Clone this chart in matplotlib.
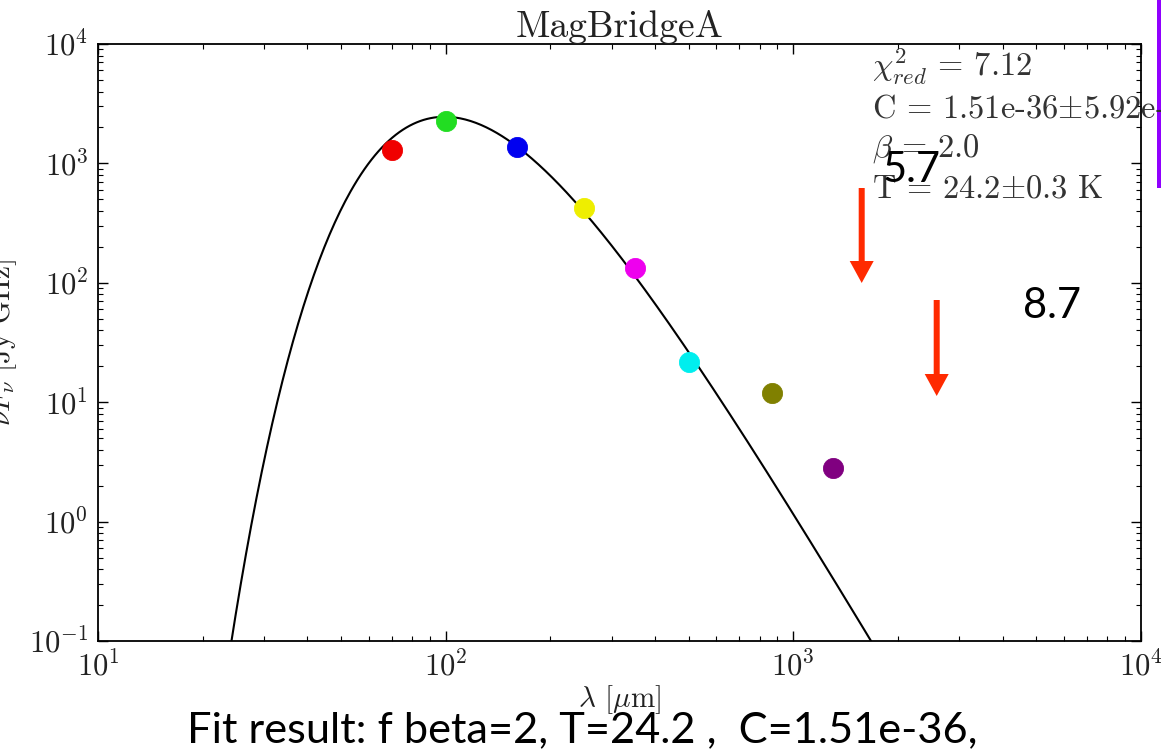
import matplotlib
matplotlib.use("Agg")
import matplotlib.pyplot as plt
from matplotlib.patches import FancyArrow, Rectangle
import numpy as np

# photometry (wavelength in micron, nu F_nu in Jy GHz)
wavelengths = [70, 100, 160, 250, 350, 500, 870, 1300]
fluxes = [1300, 2270, 1370, 423, 133, 21.7, 11.9, 2.81]
point_colors = ["#f00000", "#22dd22", "#0000f0", "#eeee00",
                "#ee00ee", "#00eeee", "#808000", "#800080"]

# fitted modified blackbody
T_dust = 24.2
beta = 2.0
amp = 21.2
fit_lines = [r"$\chi^2_{red}$ = 7.12",
             r"C = 1.51e-36$\pm$5.92e-37",
             r"$\beta$ = 2.0",
             r"T = 24.2$\pm$0.3 K"]

# hand-written upper limits on the slide
limit_labels = ["5.7", "8.7"]
caption = "Fit result: f beta=2, T=24.2 ,  C=1.51e-36,"

plt.rcParams["font.family"] = "serif"
plt.rcParams["font.serif"] = ["cmr10"]
plt.rcParams["mathtext.fontset"] = "cm"
plt.rcParams["axes.formatter.use_mathtext"] = True
plt.rcParams["axes.unicode_minus"] = False


def mbb(lam, T, b):
    # nu F_nu shape of a modified blackbody, x = h nu / k T
    x = 14387.77 / (lam * T)
    return amp * x ** (4 + b) / np.expm1(x)


W, H = 1161, 752
fig = plt.figure(figsize=(W / 100, H / 100), dpi=100)
ax = fig.add_axes([98 / W, 1 - 641 / H, (1141 - 98) / W, (641 - 44) / H])

lam = np.logspace(1, 4, 600)
ax.plot(lam, mbb(lam, T_dust, beta), color="black", lw=1.5, zorder=2)

for w, f, c in zip(wavelengths, fluxes, point_colors):
    ax.plot(w, f, "o", color=c, ms=14.5, mec=c, mew=0.6, zorder=3)

ax.set_xscale("log")
ax.set_yscale("log")
ax.set_xlim(10, 1e4)
ax.set_ylim(0.1, 1e4)

ax.tick_params(which="both", direction="in", top=True, right=True,
               labelsize=22, labelcolor="#222222", pad=7)
ax.tick_params(which="major", length=7, width=1)
ax.tick_params(which="minor", length=3.5, width=0.8)
for s in ax.spines.values():
    s.set_linewidth(1.3)

ax.set_title("MagBridgeA", fontsize=27, pad=4, color="#222222")
ax.set_xlabel(r"$\lambda$ [$\mu$m]", fontsize=21, color="#222222")
ax.xaxis.set_label_coords(0.5, -0.07)
ax.set_ylabel(r"$\nu F_\nu$ [Jy GHz]", fontsize=21, color="#222222")
ax.yaxis.set_label_coords(-0.076, 0.5)

# fit summary in the upper right
for i, line in enumerate(fit_lines):
    fig.text(872 / W, 1 - (77 + 40 * i) / H, line, fontsize=23.4,
             color="#333333", va="baseline", ha="left")

# slide overlays: upper-limit arrows and their values
red = "#ff2a00"
for (x, y0, y1) in [(8.617, 5.64, 4.69), (9.367, 4.52, 3.56)]:
    fig.add_artist(FancyArrow(x, y0, 0, y1 - y0, width=0.06, head_width=0.24,
                              head_length=0.22, length_includes_head=True,
                              color=red, lw=0, transform=fig.dpi_scale_trans))
fig.text(883 / W, 1 - 182 / H, limit_labels[0], fontsize=30, family="Lato",
         va="baseline", ha="left")
fig.text(1023 / W, 1 - 318 / H, limit_labels[1], fontsize=30, family="Lato",
         va="baseline", ha="left")

fig.text(187 / W, 1 - 742 / H, caption, fontsize=31.2, family="Lato",
         va="baseline", ha="left")

fig.add_artist(Rectangle((1157 / W, 1 - 188 / H), 5 / W, 188 / H,
                         color="#9000ff", lw=0, transform=fig.transFigure))

fig.savefig("out.png", dpi=100)
